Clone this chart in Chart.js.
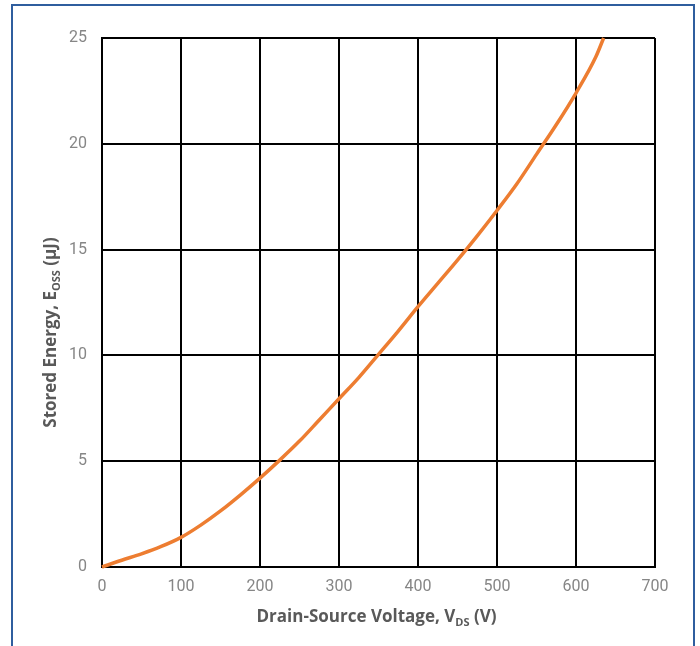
<!DOCTYPE html>
<html>
<head>
<meta charset="utf-8">
<script src="https://cdn.jsdelivr.net/npm/chart.js@4/dist/chart.umd.min.js"></script>
<style>
  html, body { margin: 0; padding: 0; background: #ffffff; }
  #wrap { position: relative; width: 700px; height: 646px; overflow: hidden; }
  #frame { position: absolute; left: 11px; top: 4px; width: 680px; height: 700px;
           border: 2px solid #2f5e9e; box-sizing: content-box; pointer-events: none; }
  canvas { position: absolute; left: 0; top: 0; }
</style>
</head>
<body>
<div id="wrap">
  <div id="frame"></div>
  <canvas id="chart" width="700" height="646"></canvas>
</div>
<script>
// Drain-source voltage (V) and the output-capacitance stored energy (µJ)
const voltage = [0, 25, 50, 75, 100, 125, 150, 175, 200, 225, 250, 275, 300, 325, 350,
                 375, 400, 425, 450, 475, 500, 525, 550, 575, 600, 625, 635];
const energy  = [0, 0.32, 0.62, 0.97, 1.40, 1.98, 2.65, 3.40, 4.20, 5.05, 5.95, 6.95, 7.95, 8.95, 10.05,
                 11.15, 12.30, 13.40, 14.50, 15.65, 16.85, 18.10, 19.50, 20.90, 22.40, 24.10, 25.0];

const xTicks = [0, 100, 200, 300, 400, 500, 600, 700];
const yTicks = [0, 5, 10, 15, 20, 25];

const xTitle = [["Drain-Source Voltage, V", false], ["DS", true], [" (V)", false]];
const yTitle = [["Stored Energy, E", false], ["OSS", true], [" (\u03BCJ)", false]];

const TITLE_FONT = '"Open Sans", "Noto Sans", sans-serif';
const TITLE_COLOR = '#595959';

// Draws a title made of normal and subscript runs, centred on (cx, cy)
function drawRichText(ctx, parts, cx, cy, angle) {
  const mainFont = 'bold 17px ' + TITLE_FONT;
  const subFont = 'bold 11px ' + TITLE_FONT;
  let total = 0;
  const widths = parts.map(([txt, sub]) => {
    ctx.font = sub ? subFont : mainFont;
    const w = ctx.measureText(txt).width;
    total += w;
    return w;
  });
  ctx.save();
  ctx.translate(cx, cy);
  ctx.rotate(angle);
  ctx.fillStyle = TITLE_COLOR;
  ctx.textBaseline = 'alphabetic';
  ctx.textAlign = 'left';
  let x = -total / 2;
  parts.forEach(([txt, sub], i) => {
    ctx.font = sub ? subFont : mainFont;
    ctx.fillText(txt, x, sub ? 9 : 5);
    x += widths[i];
  });
  ctx.restore();
}

const axisTitles = {
  id: 'axisTitles',
  afterDraw(chart) {
    const { ctx, chartArea } = chart;
    const midX = (chartArea.left + chartArea.right) / 2;
    drawRichText(ctx, xTitle, midX - 2, chartArea.bottom + 50, 0);
    drawRichText(ctx, yTitle, 51, (chartArea.top + chartArea.bottom) / 2 + 30, -Math.PI / 2);
  }
};

const tickFont = { family: 'Roboto, "Liberation Sans", sans-serif', size: 16, weight: 'normal' };

new Chart(document.getElementById('chart'), {
  type: 'scatter',
  data: {
    datasets: [{
      data: voltage.map((v, i) => ({ x: v, y: energy[i] })),
      showLine: true,
      borderColor: '#ED7D31',
      borderWidth: 3.5,
      pointRadius: 0,
      cubicInterpolationMode: 'monotone',
      clip: 4
    }]
  },
  options: {
    responsive: false,
    animation: false,
    layout: { padding: { left: 0, top: 38, right: 45, bottom: 0 } },
    plugins: { legend: { display: false }, tooltip: { enabled: false } },
    scales: {
      x: {
        type: 'linear',
        min: xTicks[0],
        max: xTicks[xTicks.length - 1],
        afterBuildTicks: s => { s.ticks = xTicks.map(v => ({ value: v })); },
        afterFit: s => { s.height = 79; s.paddingLeft = 0; s.paddingRight = 0; },
        grid: { color: '#000000', lineWidth: 2, drawTicks: false },
        border: { color: '#000000', width: 2 },
        ticks: { color: '#868686', font: tickFont, padding: 10, maxRotation: 0 }
      },
      y: {
        type: 'linear',
        min: yTicks[0],
        max: yTicks[yTicks.length - 1],
        afterBuildTicks: s => { s.ticks = yTicks.map(v => ({ value: v })); },
        afterFit: s => { s.width = 102; s.paddingTop = 0; s.paddingBottom = 0; },
        grid: { color: '#000000', lineWidth: 2, drawTicks: false },
        border: { color: '#000000', width: 2 },
        ticks: { color: '#868686', font: tickFont, padding: 15 }
      }
    }
  },
  plugins: [axisTitles]
});
</script>
</body>
</html>
